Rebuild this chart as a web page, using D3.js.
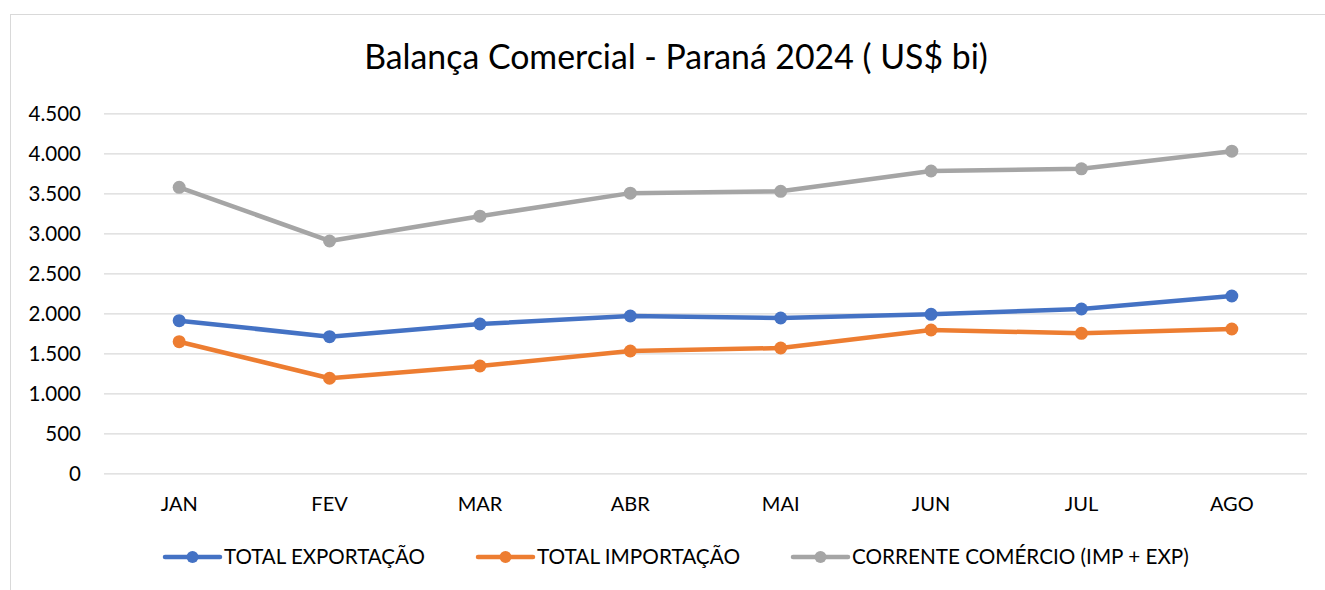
<!DOCTYPE html>
<html>
<head>
<meta charset="utf-8">
<script src="https://cdn.jsdelivr.net/npm/d3@7"></script>
<style>
  html, body { margin: 0; padding: 0; background: #fff; }
  svg { display: block; }
  text { font-family: Lato, "Open Sans", sans-serif; fill: #000; }
</style>
</head>
<body>
<svg id="chart" width="1325" height="590"></svg>
<script>
const months = ["JAN", "FEV", "MAR", "ABR", "MAI", "JUN", "JUL", "AGO"];
const exportacao = [1908, 1708, 1866, 1966, 1941, 1987, 2054, 2216];
const importacao = [1645, 1188, 1341, 1529, 1566, 1791, 1750, 1804];
const corrente = [3575, 2904, 3214, 3502, 3525, 3779, 3806, 4026];
const yTicks = [0, 500, 1000, 1500, 2000, 2500, 3000, 3500, 4000, 4500];
const seriesNames = ["TOTAL EXPORTAÇÃO", "TOTAL IMPORTAÇÃO", "CORRENTE COMÉRCIO (IMP + EXP)"];
const seriesColors = ["#4472C4", "#ED7D31", "#A5A5A5"];
const title = "Balança Comercial - Paraná 2024 ( US$ bi)";

const series = [exportacao, importacao, corrente].map((vals, i) => ({
  name: seriesNames[i], color: seriesColors[i], values: vals
}));

const svg = d3.select("#chart");

// outer chart border
svg.append("rect").attr("x", 10.5).attr("y", 14.5).attr("width", 1400).attr("height", 700)
  .attr("fill", "none").attr("stroke", "#D9D9D9").attr("stroke-width", 1);

const plot = { left: 104, right: 1307, top: 113.3, bottom: 473.3 };

const x = d3.scaleBand().domain(months).range([plot.left, plot.right]);
const y = d3.scaleLinear().domain([0, 4500]).range([plot.bottom, plot.top]);
const cx = m => x(m) + x.bandwidth() / 2;

// fit text to width helper
function fit(sel, target, base) {
  const w = sel.node().getComputedTextLength();
  sel.attr("font-size", base * target / w);
}

// title
const t = svg.append("text").attr("x", 676).attr("y", 69).attr("text-anchor", "middle")
  .attr("font-size", 30).text(title);
fit(t, 624, 30);

// gridlines
const yAxis = d3.axisLeft(y).tickValues(yTicks).tickSize(-(plot.right - plot.left))
  .tickPadding(23).tickFormat(d => d3.format(",")(d).replace(/,/g, "."));
const ga = svg.append("g").attr("transform", `translate(${plot.left},0)`).call(yAxis);
ga.select(".domain").remove();
ga.selectAll(".tick line").attr("stroke", "#D9D9D9").attr("stroke-width", 1.3);
ga.selectAll(".tick text").attr("font-size", 20.5).attr("fill", "#000")
  .style("font-family", "Lato, sans-serif").attr("dy", "0.36em");

// x axis labels
const xAxis = d3.axisBottom(x).tickSize(0).tickPadding(24);
const gx = svg.append("g").attr("transform", `translate(0,${plot.bottom})`).call(xAxis);
gx.select(".domain").remove();
gx.selectAll(".tick text").attr("font-size", 20).attr("fill", "#000")
  .style("font-family", "Lato, sans-serif");

// lines
const line = d3.line().x((d, i) => cx(months[i])).y(d => y(d));
series.forEach(s => {
  const g = svg.append("g");
  g.append("path").datum(s.values).attr("d", line).attr("fill", "none")
    .attr("stroke", s.color).attr("stroke-width", 4.5).attr("stroke-linejoin", "round")
    .attr("stroke-linecap", "round");
  g.selectAll("circle").data(s.values).enter().append("circle")
    .attr("cx", (d, i) => cx(months[i])).attr("cy", d => y(d)).attr("r", 6.5)
    .attr("fill", s.color);
});

// legend
const legendX = [165, 478, 793];
const legendW = [201, 203, 337];
const ly = 557;
series.forEach((s, i) => {
  const g = svg.append("g");
  g.append("line").attr("x1", legendX[i]).attr("x2", legendX[i] + 55).attr("y1", ly).attr("y2", ly)
    .attr("stroke", s.color).attr("stroke-width", 4.5).attr("stroke-linecap", "round");
  g.append("circle").attr("cx", legendX[i] + 27.5).attr("cy", ly).attr("r", 6).attr("fill", s.color);
  const tt = g.append("text").attr("x", legendX[i] + 59).attr("y", ly).attr("dy", "0.35em")
    .attr("font-size", 20).text(s.name);
  fit(tt, legendW[i], 20);
});
</script>
</body>
</html>
